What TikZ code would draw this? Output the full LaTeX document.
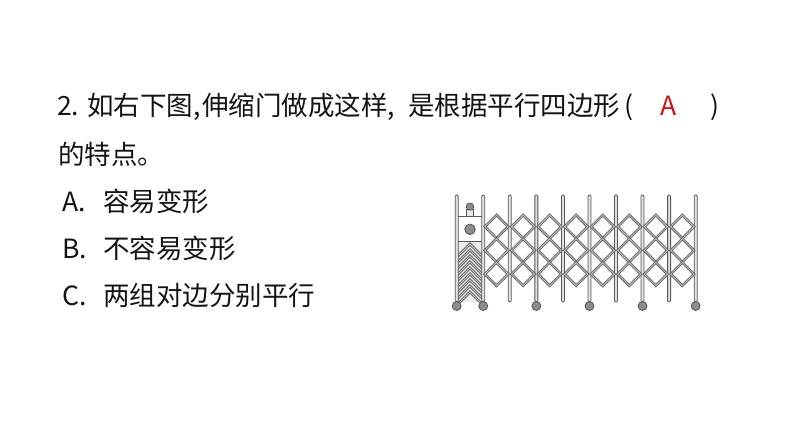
\documentclass[tikz,border=0pt]{standalone}
\usepackage{fontspec}
\setmainfont{Noto Sans CJK SC}
\definecolor{ansred}{RGB}{205,20,20}
\tikzset{
	txt_q/.style = {anchor=base west, inner sep=0pt, text=black!92,
		font=\fontsize{26.5}{26.5}\selectfont},% texte, question
	txt_r/.style = {txt_q, anchor=base, text=ansred},% texte, reponse
	gate_p/.style = {draw=black!65, fill=black!12, line width=0.8pt,
		rounded corners=1.2pt},% grille, poteau
	gate_w/.style = {draw=black!70, fill=black!45, line width=0.7pt},% grille, roue
	gate_d/.style = {draw=black!62, double=black!22, double distance=0.8pt,
		line width=0.9pt}% grille, losange
}
\begin{document}
\begin{tikzpicture}[x=1pt,y=-1pt]
	\useasboundingbox (0,0) rectangle (794,447);
	% question
	\node[txt_q] (q_num) at (57,115) {2.};
	\node[txt_q] (q_a) at (87,115) {如右下图,};
	\node[txt_q] (q_b) at (202,115) {伸缩门做成这样,};
	\node[txt_q] (q_c) at (408,115) {是根据平行四边形};
	\node[txt_q, anchor=base] (q_po) at (629,115) {(};
	\node[txt_r] (q_ans) at (669,115) {A};
	\node[txt_q, anchor=base] (q_pf) at (715,115) {)};
	\node[txt_q] (q_d) at (58,164) {的特点。};
	% choix
	\node[txt_q] (opt_a) at (62,211) {A.};
	\node[txt_q] (opt_a_t) at (103,211) {容易变形};
	\node[txt_q] (opt_b) at (62,258) {B.};
	\node[txt_q] (opt_b_t) at (103,258) {不容易变形};
	\node[txt_q] (opt_c) at (62,305) {C.};
	\node[txt_q] (opt_c_t) at (103,305) {两组对边分别平行};
	% boitier
	\fill[black!8] (457,241) rectangle (483,302);
	\begin{scope}
		\clip (457,241.5) rectangle (483,302);
		\foreach \k in {0,...,8}
			\draw[gate_d] (456,{244+6*\k+14}) -- (470,{244+6*\k}) -- (484,{244+6*\k+14});
	\end{scope}
	\draw[black!65, line width=0.8pt] (456.7,216.7) -- (483.3,216.7)
		(456.7,241) -- (483.3,241);
	\draw[gate_w] (470,229.3) circle (5.3pt);
	\draw[draw=black!65, fill=black!10, line width=0.7pt] (466.5,209) rectangle (473.5,216.7);
	\draw[gate_w, rounded corners=2.5pt] (466.5,203.3) rectangle (473.5,210);
	% poteaux
	\foreach \i in {0,...,9}
		\draw[gate_p] ({456.7+26.55*\i-1.5},195) rectangle ({456.7+26.55*\i+1.5},302);
	% losanges
	\foreach \j in {1,...,8}
		\foreach \r in {0,1,2}
			\draw[gate_d, shift={({456.7+26.55*(\j+0.5)},{226.7+23.7*\r})}]
				(-11.6,0) -- (0,-11.6) -- (11.6,0) -- (0,11.6) -- cycle;
	% roues
	\foreach \i in {0,1,3,5,7,9}
		\draw[gate_w] ({456.7+26.55*\i},306) circle (4.5pt);
\end{tikzpicture}
\end{document}
